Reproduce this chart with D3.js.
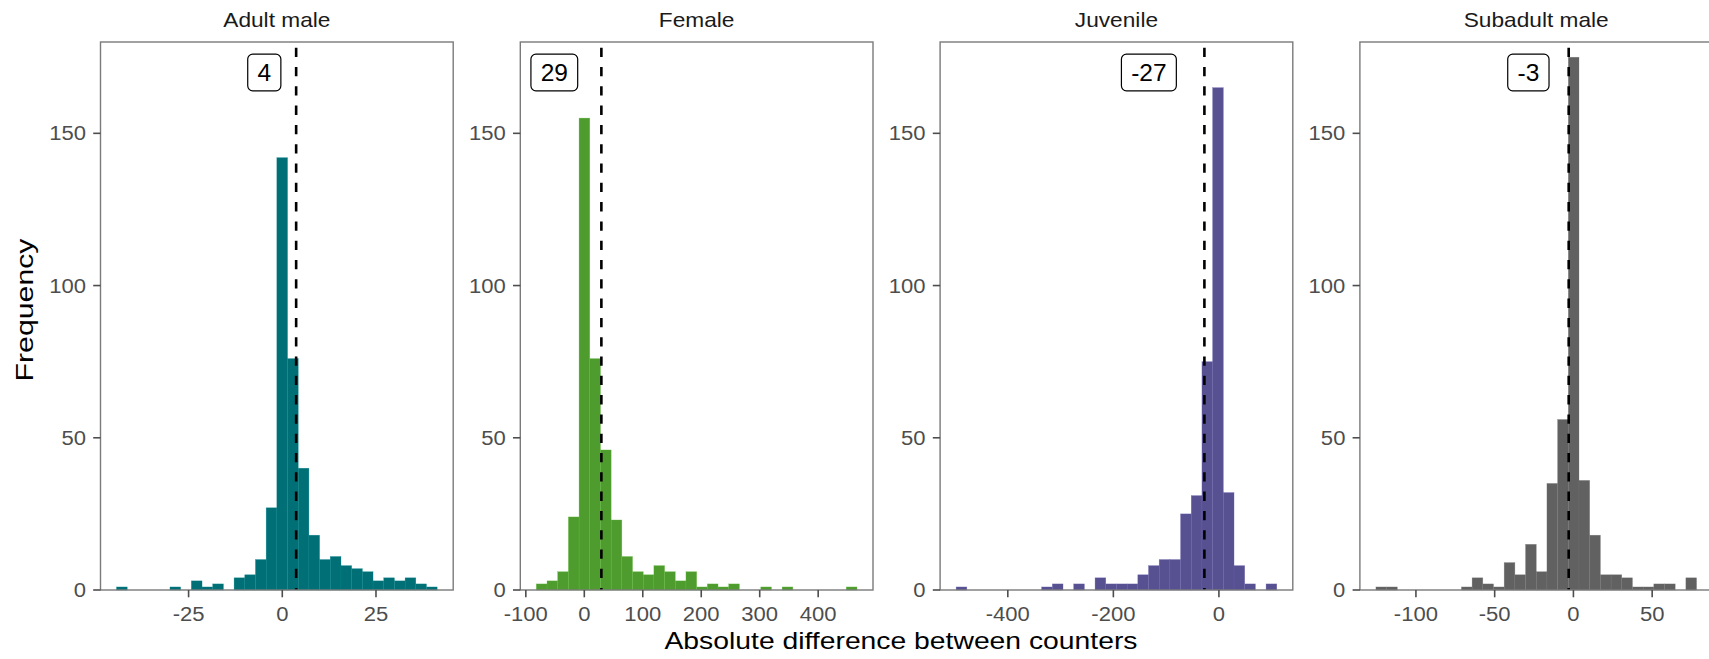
<!DOCTYPE html>
<html>
<head>
<meta charset="utf-8">
<script src="https://cdn.jsdelivr.net/npm/d3@7"></script>
<style>
  html, body { margin: 0; padding: 0; background: #ffffff; }
  svg { display: block; font-family: "Liberation Sans", Arial, Helvetica, sans-serif; }
</style>
</head>
<body>
<svg id="chart" width="1709" height="659"></svg>
<script>
// ---------------- data ----------------
const panelNames = ["Adult male", "Female", "Juvenile", "Subadult male"];
// centre of the first and of the last of the 30 histogram bins
const binFirstCentre = [-42.8, -72.9, -487.8, -122.0];
const binLastCentre  = [39.9, 457.2, 99.5, 74.8];
const countsAdultMale    = [1,0,0,0,0,1,0,3,1,2,0,4,5,10,27,142,76,40,18,10,11,8,7,6,3,4,3,4,2,1];
const countsFemale       = [2,3,6,24,155,76,46,23,11,6,5,8,6,3,6,1,2,1,2,0,0,1,0,1,0,0,0,0,0,1];
const countsJuvenile     = [1,0,0,0,0,0,0,0,1,2,0,2,0,4,2,2,2,5,8,10,10,25,31,75,165,32,8,2,0,2];
const countsSubadultMale = [1,1,0,0,0,0,0,0,1,4,2,1,9,5,15,6,35,56,175,36,18,5,5,4,1,1,2,2,0,4];
const meanValues = [3.7, 29.2, -27.5, -3.0];
const meanLabels = ["4", "29", "-27", "-3"];
const labelXValues = [-4.8, -51.3, -132.7, -28.6];
const labelYValue = 170;
const xTickValues = [[-25, 0, 25], [-100, 0, 100, 200, 300, 400], [-400, -200, 0], [-100, -50, 0, 50]];
const yTickValues = [0, 50, 100, 150];
const yMax = 180;
const fillColours = ["#006f76", "#4e9c2e", "#575192", "#616161"];
const xTitle = "Absolute difference between counters";
const yTitle = "Frequency";

const allCounts = [countsAdultMale, countsFemale, countsJuvenile, countsSubadultMale];

// ---------------- layout ----------------
const svg = d3.select("#chart");
const panelLeft0 = 100.5, panelStep = 419.8, panelW = 352.7;
const panelTop = 42, panelBottom = 590;
const tickLen = 7.3;

function stretch(sel, sx) {
  sel.each(function () {
    const l = this.getComputedTextLength();
    d3.select(this).attr("textLength", l * sx).attr("lengthAdjust", "spacingAndGlyphs");
  });
}

const y = d3.scaleLinear().domain([0, yMax]).range([panelBottom, panelTop]);

panelNames.forEach((name, i) => {
  const counts = allCounts[i];
  const n = counts.length;
  const w = (binLastCentre[i] - binFirstCentre[i]) / (n - 1);
  const lo = binFirstCentre[i] - w / 2, hi = binLastCentre[i] + w / 2;
  const pad = 0.05 * (hi - lo);
  const left = panelLeft0 + i * panelStep;
  const x = d3.scaleLinear().domain([lo - pad, hi + pad]).range([left, left + panelW]);

  const bins = counts.map((c, k) => ({ x0: lo + k * w, x1: lo + (k + 1) * w, count: c }));
  const g = svg.append("g");

  // bars
  const base = d3.color(fillColours[i]);
  const edge = base.brighter(0.5);
  g.append("g").selectAll("rect").data(bins.filter(b => b.count > 0)).join("rect")
    .attr("x", d => x(d.x0))
    .attr("width", d => x(d.x1) - x(d.x0))
    .attr("y", d => y(d.count))
    .attr("height", d => y(0) - y(d.count))
    .attr("fill", fillColours[i])
    .attr("stroke", edge.formatHex())
    .attr("stroke-opacity", 0.6)
    .attr("stroke-width", 0.5);

  // mean line
  g.append("line")
    .attr("x1", x(meanValues[i])).attr("x2", x(meanValues[i]))
    .attr("y1", y(yMax)).attr("y2", y(0))
    .attr("stroke", "#000").attr("stroke-width", 2.6)
    .attr("stroke-dasharray", "9.3,10")
    .attr("stroke-dashoffset", 13.6);

  // label
  const lg = g.append("g");
  const lt = lg.append("text")
    .attr("x", x(labelXValues[i]))
    .attr("y", y(labelYValue) + 8.8)
    .attr("text-anchor", "middle")
    .attr("font-size", 24.5)
    .attr("fill", "#000")
    .text(meanLabels[i]);
  const tw = lt.node().getComputedTextLength();
  const bw = tw + 19.5, bh = 36.7;
  lg.insert("rect", "text")
    .attr("x", x(labelXValues[i]) - bw / 2)
    .attr("y", y(labelYValue) - bh / 2)
    .attr("width", bw).attr("height", bh)
    .attr("rx", 5).attr("ry", 5)
    .attr("fill", "#fff").attr("stroke", "#000").attr("stroke-width", 1.2);

  // panel border
  g.append("rect")
    .attr("x", left).attr("y", panelTop)
    .attr("width", panelW).attr("height", panelBottom - panelTop)
    .attr("fill", "none").attr("stroke", "#7a7a7a").attr("stroke-width", 1.4);

  // x axis ticks
  const xt = g.append("g");
  xTickValues[i].forEach(v => {
    xt.append("line")
      .attr("x1", x(v)).attr("x2", x(v))
      .attr("y1", panelBottom).attr("y2", panelBottom + tickLen)
      .attr("stroke", "#4d4d4d").attr("stroke-width", 1.6);
    const t = xt.append("text")
      .attr("x", x(v)).attr("y", 620.5)
      .attr("text-anchor", "middle")
      .attr("font-size", 19.5).attr("fill", "#4d4d4d")
      .text(d3.format("d")(v).replace("−", "-"));
    stretch(t, 1.13);
  });

  // y axis ticks
  const yt = g.append("g");
  yTickValues.forEach(v => {
    yt.append("line")
      .attr("x1", left - tickLen).attr("x2", left)
      .attr("y1", y(v)).attr("y2", y(v))
      .attr("stroke", "#4d4d4d").attr("stroke-width", 1.6);
    const t = yt.append("text")
      .attr("x", left - 14.5).attr("y", y(v) + 7)
      .attr("text-anchor", "end")
      .attr("font-size", 19.5).attr("fill", "#4d4d4d")
      .text(v);
    stretch(t, 1.13);
  });

  // strip title
  const st = g.append("text")
    .attr("x", left + panelW / 2).attr("y", 26.7)
    .attr("text-anchor", "middle")
    .attr("font-size", 21).attr("fill", "#1a1a1a")
    .text(name);
  stretch(st, 1.08);
});

// axis titles
svg.append("text")
  .attr("x", 901).attr("y", 649)
  .attr("text-anchor", "middle")
  .attr("font-size", 24.5).attr("fill", "#000")
  .attr("textLength", 473).attr("lengthAdjust", "spacingAndGlyphs")
  .text(xTitle);

svg.append("text")
  .attr("transform", "translate(33.3,310) rotate(-90)")
  .attr("text-anchor", "middle")
  .attr("font-size", 24.5).attr("fill", "#000")
  .attr("textLength", 143).attr("lengthAdjust", "spacingAndGlyphs")
  .text(yTitle);
</script>
</body>
</html>
